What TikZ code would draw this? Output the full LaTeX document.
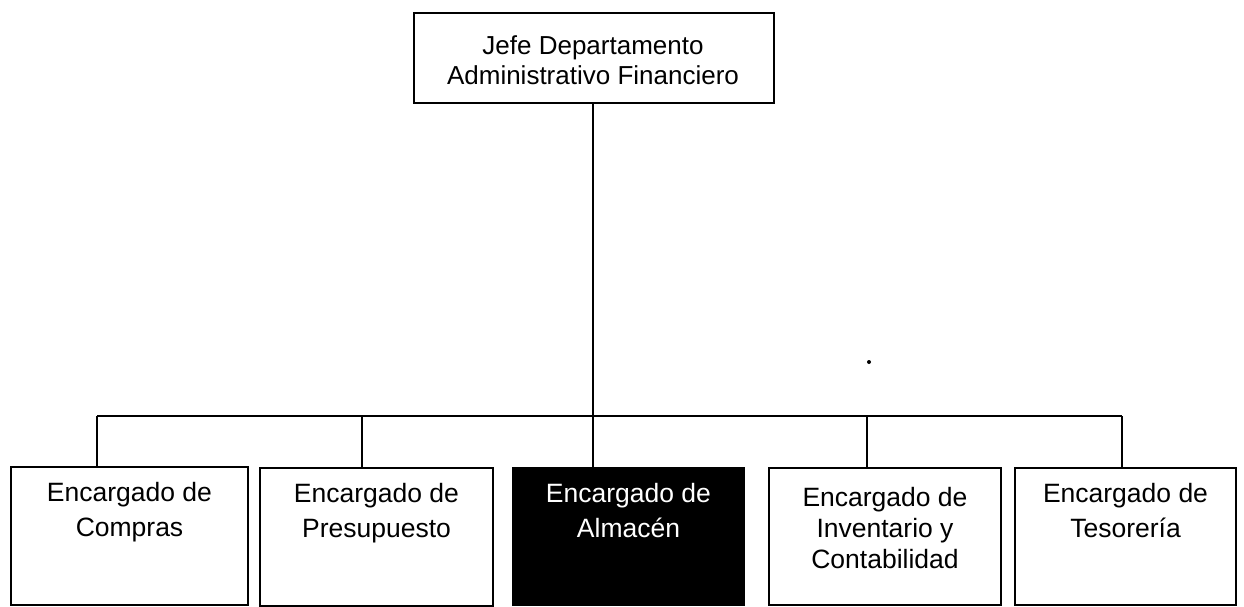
\documentclass[tikz,border=0pt]{standalone}
\usepackage{fontspec}
\setmainfont{Liberation Sans}
\begin{document}
\begin{tikzpicture}[x=1pt,y=-1pt,
  box/.style={draw=black,line width=2pt,fill=white,inner sep=0pt,anchor=north west},
  dbox/.style={box,fill=black},
  lbl/.style={anchor=north,align=center,inner sep=0pt,font=\fontsize{26.5}{35}\selectfont},
  lblthree/.style={lbl,font=\fontsize{26.5}{31}\selectfont},
  toplbl/.style={anchor=center,align=center,inner sep=0pt,font=\fontsize{26}{30}\selectfont},
  conn/.style={line width=2pt}]
\useasboundingbox (0,0) rectangle (1244,606);
% top box
\node[box,minimum width=360pt,minimum height=90pt] (top) at (413,12) {};
\node[toplbl] (toptxt) at (593,60) {Jefe Departamento\\Administrativo Financiero};
% bottom boxes
\node[box,minimum width=237pt,minimum height=138pt] (b1) at (10,466) {};
\node[box,minimum width=233pt,minimum height=138pt] (b2) at (259,467) {};
\node[dbox,minimum width=231pt,minimum height=137pt] (b3) at (512,467) {};
\node[box,minimum width=232pt,minimum height=137pt] (b4) at (768,467) {};
\node[box,minimum width=221pt,minimum height=137pt] (b5) at (1014,467) {};
\node[lbl] (t1) at ([yshift=-16pt]b1.north) {Encargado de\\Compras};
\node[lbl] (t2) at ([yshift=-16pt]b2.north) {Encargado de\\Presupuesto};
\node[lbl,text=white] (t3) at ([yshift=-16pt]b3.north) {Encargado de\\Almacén};
\node[lblthree] (t4) at ([yshift=-20pt]b4.north) {Encargado de\\Inventario y\\Contabilidad};
\node[lbl] (t5) at ([yshift=-16pt]b5.north) {Encargado de\\Tesorería};
% connector coordinates
\coordinate (hub) at (593,416);
\coordinate (c1) at (97,416);
\coordinate (c2) at (362,416);
\coordinate (c3) at (593,416);
\coordinate (c4) at (867,416);
\coordinate (c5) at (1122,416);
\draw[conn] (top.south -| hub) -- (hub);
\draw[conn] (c1) -- (c5);
\draw[conn] (c1) -- (c1 |- b1.north);
\draw[conn] (c2) -- (c2 |- b2.north);
\draw[conn] (c3) -- (c3 |- b3.north);
\draw[conn] (c4) -- (c4 |- b4.north);
\draw[conn] (c5) -- (c5 |- b5.north);
% stray dot
\fill (869,362) circle (2pt);
\end{tikzpicture}
\end{document}
